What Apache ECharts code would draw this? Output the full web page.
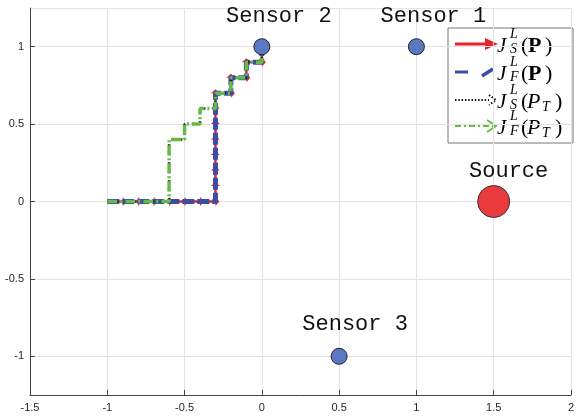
<!DOCTYPE html>
<html>
<head>
<meta charset="utf-8">
<script src="https://cdn.jsdelivr.net/npm/echarts@6/dist/echarts.min.js"></script>
<style>html,body{margin:0;padding:0;background:#fff}#c{width:577px;height:416px}</style>
</head>
<body>
<div id="c"></div>
<script>
// ---- data ----
const xTickMin = -1.5, xTickMax = 2, xTickStep = 0.5;
const yMin = -1.25, yMax = 1.25;

// path for P (policy)
const pathPx = [-1,-0.9,-0.8,-0.7,-0.6,-0.5,-0.4,-0.3,-0.3,-0.3,-0.3,-0.3,-0.3,-0.3,-0.3,-0.2,-0.2,-0.1,-0.1,0,0];
const pathPy = [0,0,0,0,0,0,0,0,0.1,0.2,0.3,0.4,0.5,0.6,0.7,0.7,0.8,0.8,0.9,0.9,1];
// path for P_T
const pathTx = [-1,-0.9,-0.8,-0.7,-0.6,-0.6,-0.6,-0.6,-0.6,-0.5,-0.5,-0.4,-0.4,-0.3,-0.3,-0.2,-0.2,-0.1,-0.1,0,0];
const pathTy = [0,0,0,0,0,0.1,0.2,0.3,0.4,0.4,0.5,0.5,0.6,0.6,0.7,0.7,0.8,0.8,0.9,0.9,1];

const sensorNames = ['Sensor 1','Sensor 2','Sensor 3'];
const sensorX = [1, 0, 0.5];
const sensorY = [1, 1, -1];
const sourceName = 'Source';
const sourceX = [1.5];
const sourceY = [0];

// ---- build ----
const ptsP = pathPx.map((x,i)=>[x,pathPy[i]]);
const ptsT = pathTx.map((x,i)=>[x,pathTy[i]]);
const segP = [];
for (let i=0;i<ptsP.length-1;i++) segP.push([ptsP[i][0],ptsP[i][1],ptsP[i+1][0],ptsP[i+1][1]]);

const RED='#e8222a', BLUE='#3a4ca6', GREEN='#66bb44';

function shaft(params, api){
  const a=api.coord([api.value(0),api.value(1)]), b=api.coord([api.value(2),api.value(3)]);
  return {type:'line', shape:{x1:a[0],y1:a[1],x2:b[0],y2:b[1]}, style:{stroke:RED,lineWidth:2.5}};
}
function head(params, api){
  const a=api.coord([api.value(0),api.value(1)]), b=api.coord([api.value(2),api.value(3)]);
  let dx=b[0]-a[0], dy=b[1]-a[1]; const L=Math.hypot(dx,dy)||1; dx/=L; dy/=L;
  const tip=[b[0]+dx*4, b[1]+dy*4], base=[tip[0]-dx*4, tip[1]-dy*4];
  const nx=-dy, ny=dx, w=4.5;
  return {type:'polygon', shape:{points:[tip,[base[0]+nx*w,base[1]+ny*w],[base[0]-nx*w,base[1]-ny*w]]},
    style:{fill:RED}};
}

const sensorOffsets = [[17,-31],[17,-31],[16,-32]];
const sensorData = sensorNames.map((n,i)=>({name:n, value:[sensorX[i],sensorY[i]], label:{offset:sensorOffsets[i]}}));
const sourceData = [{name:sourceName, value:[sourceX[0],sourceY[0]], label:{offset:[15,-30]}}];

const labelFont = {fontFamily:'Liberation Mono', fontSize:22, color:'#111'};

// legend graphics
const LX=448, LY=28;
const rows=[44,72,100,126];
const serif='Liberation Serif';
function txt(x,y,s,size,style,weight){
  return {type:'text', x:x, y:y, style:{text:s, font:(style||'normal')+' '+(weight||'normal')+' '+size+'px "'+serif+'"', fill:'#000',
    align:'left', verticalAlign:'middle', textAlign:'left', textVerticalAlign:'middle'}};
}
const legendEls = [
  {type:'rect', shape:{x:LX,y:LY,width:125,height:115}, style:{fill:'#fff',stroke:'#777',lineWidth:1}},
  {type:'line', shape:{x1:455,y1:rows[0],x2:488,y2:rows[0]}, style:{stroke:RED,lineWidth:3}},
  {type:'polygon', shape:{points:[[485,rows[0]-6],[498,rows[0]],[485,rows[0]+6]]}, style:{fill:RED}},
  {type:'line', shape:{x1:455,y1:rows[1],x2:468,y2:rows[1]}, style:{stroke:BLUE,lineWidth:3}},
  {type:'line', shape:{x1:482,y1:rows[1]+4,x2:493,y2:rows[1]-3}, style:{stroke:BLUE,lineWidth:3.5}},
  {type:'line', shape:{x1:455,y1:rows[2],x2:489,y2:rows[2]}, style:{stroke:'#111',lineWidth:2,lineDash:[1.5,1.8]}},
  {type:'polyline', shape:{points:[[489,rows[2]-5],[496,rows[2]],[489,rows[2]+5]]}, style:{stroke:'#111',lineWidth:2,lineDash:[1.5,1.8],fill:null}},
  {type:'line', shape:{x1:455,y1:rows[3],x2:494,y2:rows[3]}, style:{stroke:GREEN,lineWidth:2,lineDash:[6,3,2,3]}},
  {type:'polyline', shape:{points:[[487,rows[3]-6],[496,rows[3]],[487,rows[3]+6]]}, style:{stroke:GREEN,lineWidth:2,fill:null}}
];
const subs=['S','F','S','F'];
rows.forEach((ry,i)=>{
  legendEls.push(txt(497,ry+2,'J',21,'italic'));
  legendEls.push(txt(510,ry-10,'L',14,'italic'));
  legendEls.push(txt(510,ry+5,subs[i],14,'italic'));
  legendEls.push(txt(521,ry+2,'(',22));
  if(i<2){
    legendEls.push(txt(528,ry+2,'P',22,'normal','bold'));
    legendEls.push(txt(545,ry+2,')',22));
  } else {
    legendEls.push(txt(527,ry+2,'P',22,'italic'));
    legendEls.push(txt(542,ry+7,'T',14,'italic'));
    legendEls.push(txt(555,ry+2,')',22));
  }
});

const chart = echarts.init(document.getElementById('c'), null, {renderer:'canvas'});
chart.setOption({
  animation:false,
  backgroundColor:'#fff',
  grid:{left:30,right:3,top:8,bottom:21,containLabel:false},
  xAxis:{type:'value',min:xTickMin,max:xTickMax,interval:xTickStep,
    axisLine:{show:true,onZero:false,lineStyle:{color:'#444',width:1}},
    axisTick:{show:true,inside:true,length:5,lineStyle:{color:'#444'}},
    axisLabel:{color:'#262626',fontFamily:'Liberation Sans',fontSize:11,margin:7},
    splitLine:{show:true,lineStyle:{color:'#e3e3e3',width:1}}},
  yAxis:{type:'value',min:yMin,max:yMax,splitNumber:5,
    axisLine:{show:true,onZero:false,lineStyle:{color:'#444',width:1}},
    axisTick:{show:true,inside:true,length:5,lineStyle:{color:'#444'}},
    axisLabel:{color:'#262626',fontFamily:'Liberation Sans',fontSize:11,margin:6,showMinLabel:false,showMaxLabel:false,
      formatter:v=>(Math.abs(Math.abs(v)-1.25)<1e-9?'':String(v))},
    splitLine:{show:true,lineStyle:{color:'#e3e3e3',width:1}}},
  graphic:legendEls,
  series:[
    {type:'custom', name:'shaft', renderItem:shaft, data:segP, encode:{x:[0,2],y:[1,3]}, z:2, clip:true, silent:true},
    {type:'custom', name:'head', renderItem:head, data:segP, encode:{x:[0,2],y:[1,3]}, z:2, clip:true, silent:true},
    {type:'line', name:'JF_P', data:ptsP, showSymbol:false, symbol:'none', z:3,
      lineStyle:{color:BLUE,width:5,type:[12,3]}},
    {type:'line', name:'JS_PT', data:ptsT, showSymbol:false, symbol:'none', z:4,
      lineStyle:{color:'#111',width:2.5,type:[2,7]}},
    {type:'line', name:'JF_PT', data:ptsT, showSymbol:false, symbol:'none', z:5,
      lineStyle:{color:GREEN,width:3.5,type:[10,3,2,3]}},
    {type:'scatter', name:'sensors', data:sensorData, symbolSize:16, z:7,
      itemStyle:{color:'#5b78c2',borderColor:'#222',borderWidth:1,opacity:1},
      label:Object.assign({show:true,position:'inside',formatter:'{b}',align:'center',verticalAlign:'middle'},labelFont)},
    {type:'scatter', name:'source', data:sourceData, symbolSize:32, z:7,
      itemStyle:{color:'#ea3a3e',borderColor:'#333',borderWidth:1,opacity:1},
      label:Object.assign({show:true,position:'inside',formatter:'{b}',align:'center',verticalAlign:'middle'},labelFont)}
  ]
});
</script>
</body>
</html>
